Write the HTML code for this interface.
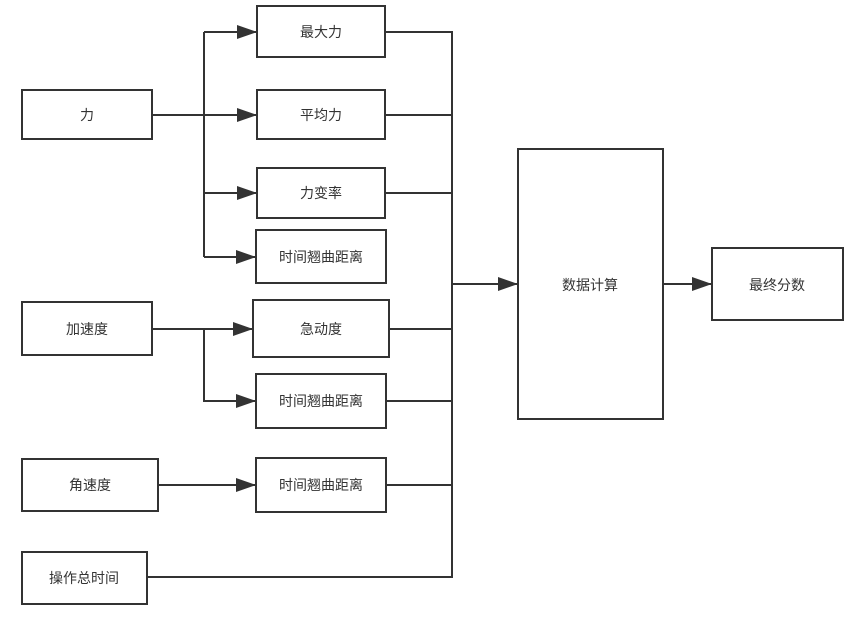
<!DOCTYPE html>
<html><head><meta charset="utf-8"><style>
html,body{margin:0;padding:0;background:#fff;width:865px;height:619px;overflow:hidden}
svg text{font-family:"Liberation Sans","Noto Sans CJK SC",sans-serif;font-size:14px;fill:#333;text-anchor:middle;dominant-baseline:central}
</style></head><body>
<svg width="865" height="619" viewBox="0 0 865 619" xmlns="http://www.w3.org/2000/svg">
<defs><marker id="a" markerWidth="10" markerHeight="10" refX="10" refY="5" orient="auto" markerUnits="userSpaceOnUse"><path d="M0,0 L20,5 L0,10 Z" fill="#333" transform="scale(0.5,1)"/></marker>
<marker id="b" viewBox="0 0 20 14" markerWidth="20" markerHeight="14" refX="20" refY="7" orient="auto" markerUnits="userSpaceOnUse"><path d="M0,0 L20,7 L0,14 Z" fill="#333"/></marker></defs>
<g fill="none" stroke="#333" stroke-width="2">
<!-- force branches -->
<path d="M152,115 H204"/>
<path d="M204,32 V257"/>
<path d="M204,32 H257" marker-end="url(#b)"/>
<path d="M204,115 H257" marker-end="url(#b)"/>
<path d="M204,193 H257" marker-end="url(#b)"/>
<path d="M204,257 H256" marker-end="url(#b)"/>
<!-- accel -->
<path d="M152,329 H253" marker-end="url(#b)"/>
<path d="M204,329 V401 H256" marker-end="url(#b)"/>
<!-- angular -->
<path d="M158,485 H256" marker-end="url(#b)"/>
<!-- right bus -->
<path d="M385,32 H452 V577 H147"/>
<path d="M385,115 H452"/>
<path d="M385,193 H452"/>
<path d="M389,329 H452"/>
<path d="M386,401 H452"/>
<path d="M386,485 H452"/>
<path d="M452,284 H518" marker-end="url(#b)"/>
<path d="M663,284 H712" marker-end="url(#b)"/>
<!-- boxes -->
<rect x="22" y="90" width="130" height="49"/>
<rect x="257" y="6" width="128" height="51"/>
<rect x="257" y="90" width="128" height="49"/>
<rect x="257" y="168" width="128" height="50"/>
<rect x="256" y="230" width="130" height="53"/>
<rect x="22" y="302" width="130" height="53"/>
<rect x="253" y="300" width="136" height="57"/>
<rect x="256" y="374" width="130" height="54"/>
<rect x="22" y="459" width="136" height="52"/>
<rect x="256" y="458" width="130" height="54"/>
<rect x="22" y="552" width="125" height="52"/>
<rect x="518" y="149" width="145" height="270"/>
<rect x="712" y="248" width="131" height="72"/>
</g>
<text x="87" y="115">力</text>
<text x="321" y="32">最大力</text>
<text x="321" y="115">平均力</text>
<text x="321" y="193">力变率</text>
<text x="321" y="257">时间翘曲距离</text>
<text x="87" y="329">加速度</text>
<text x="321" y="329">急动度</text>
<text x="321" y="401">时间翘曲距离</text>
<text x="90" y="485">角速度</text>
<text x="321" y="485">时间翘曲距离</text>
<text x="84" y="578">操作总时间</text>
<text x="590" y="285">数据计算</text>
<text x="777" y="285">最终分数</text>
</svg>
</body></html>
